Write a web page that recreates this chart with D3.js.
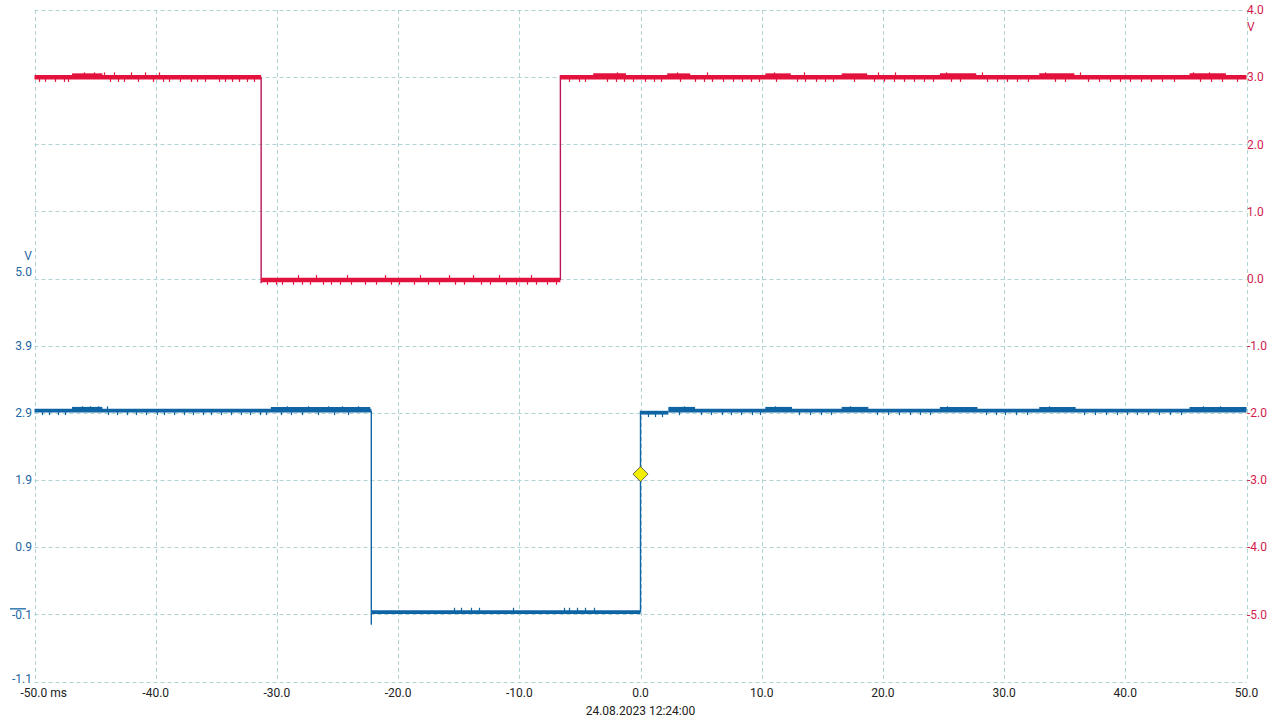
<!DOCTYPE html>
<html><head><meta charset="utf-8">
<script src="https://d3js.org/d3.v7.min.js"></script>
<style>body{margin:0;background:#fff}svg{display:block;font-family:Roboto,"DejaVu Sans",sans-serif}</style>
</head><body><svg id="c" width="1280" height="720"></svg>
<script>
// ---------- data ----------
const timeTicks = [-50,-40,-30,-20,-10,0,10,20,30,40,50];
const timeTickLabels = ["-50.0 ms","-40.0","-30.0","-20.0","-10.0","0.0","10.0","20.0","30.0","40.0","50.0"];
const rightTicks = [4,3,2,1,0,-1,-2,-3,-4,-5,-6];
const rightTickLabels = ["4.0","3.0","2.0","1.0","0.0","-1.0","-2.0","-3.0","-4.0","-5.0",""];
const leftTickLabels = ["-1.1","-0.1","0.9","1.9","2.9","3.9","5.0"];
const timestamp = "24.08.2023 12:24:00";

// channel A (red, right axis): horizontal levels and edges
const redSegments = [[-50,-31.3,3.0],[-31.3,-6.61,-0.02],[-6.61,50,3.0]];
const redEdges = [[-31.3,3.0,-0.07],[-6.61,-0.02,3.03]];
const redRaised = [[-46.9,-44.4],[-3.9,-1.2],[2.2,4.1],[10.3,12.4],[16.6,18.7],[24.7,27.7],[32.9,35.8],[45.3,48.3]];
const redDownTicks = [-49.6,-49.1,-48.3,-47.6,-47.2,-43.8,-43.1,-42.6,-41.5,-40.2,-39.4,-38.9,-38.0,-37.1,-36.6,-35.9,-34.8,-34.3,-33.7,-33.1,-32.5,-31.9,
  -30.8,-30.1,-29.6,-28.7,-27.9,-27.3,-26.2,-25.5,-24.8,-23.9,-22.7,-21.8,-20.6,-19.9,-18.7,-17.5,-16.6,-15.3,-14.6,-13.2,-12.4,-11.1,-10.3,-9.4,-8.6,-7.7,-7.0,
  -5.9,-5.1,-4.6,-2.8,-2.0,-1.4,-0.6,0.4,1.1,1.7,3.3,4.5,5.2,5.9,6.8,7.6,8.4,9.1,9.8,11.2,12.9,13.6,14.5,15.2,15.9,17.6,19.3,20.1,20.9,21.7,22.6,23.4,24.1,25.6,26.4,28.6,29.4,30.2,31.1,32.0,34.2,35.0,36.9,37.8,38.7,39.6,40.4,41.3,42.1,43.0,44.0,46.2,47.1,48.0,49.2];
const redUpTicks = [-45.9,-45.1,-44.3,-43.4,-42.0,-40.9,-39.7,-28.3,-26.8,-24.2,-21.1,-18.2,-15.8,-13.8,-11.7,-9.0,-1.9,3.0,5.5,11.0,13.5,19.6,21.0,25.2,28.2,33.4,36.3,45.6,46.9];

// channel B (blue, left axis)
const blueSegments = [[-50,-22.21,3.0],[-22.21,0,-0.05],[0,2.3,2.97],[2.3,50,3.0]];
const blueEdges = [[-22.21,3.0,-0.24],[0,-0.05,3.0]];
const blueRaised = [[-46.9,-44.4],[-30.5,-22.3],[2.3,4.5],[10.3,12.5],[16.6,18.8],[24.7,27.8],[32.9,35.9],[45.3,50]];
const blueDownTicks = [-49.4,-48.8,-48.1,-47.5,-43.9,-43.2,-42.4,-41.6,-40.8,-39.9,-39.3,-38.5,-37.7,-36.9,-36.1,-35.4,-34.6,-33.8,-33.0,-32.2,-31.4,-30.9,-29.7,-28.8,-27.9,-26.6,-25.3,-24.1,
  0.6,1.2,1.8,3.2,5.0,5.8,6.7,7.5,8.3,9.2,9.9,13.1,14.0,14.9,15.7,19.5,20.4,21.3,22.2,23.1,23.9,28.5,29.3,30.1,31.0,31.9,36.6,37.5,38.4,39.3,40.1,41.0,41.9,42.8,43.7,44.6];
const blueUpTicks = [-46.1,-45.4,-44.8,-44.0,-29.2,-27.4,-25.8,-24.6,-23.3,-15.4,-14.8,-14.0,-13.3,-10.5,-6.3,-5.9,-5.2,-4.6,-3.8,3.6,11.1,17.3,25.3,33.7,46.4,47.8];

const triggerTime = 0, triggerLevel = 2.04;

// ---------- drawing ----------
const svg = d3.select("#c");
const x = d3.scaleLinear().domain([-50,50]).range([34.5,1246.5]);
const yR = d3.scaleLinear().domain([-6,4]).range([681.5,10]);
const yL = d3.scaleLinear().domain([-1.1,5.0]).range([681.5,yR(0)]);
const leftTickVals = leftTickLabels.map((d,i)=>-1.1 + i*(6.1/6));

const RED="#e3123c", RED_EDGE="#b8145a", RED_TXT="#d21a4c";
const BLUE="#0f64a4", BLUE_TXT="#1d67a3";
const GRID="#b0d3d4";
const r5 = v => Math.round(v)+0.5;

// grid
const g = svg.append("g");
g.selectAll("line.v").data(timeTicks).join("line")
  .attr("x1",d=>r5(x(d))).attr("x2",d=>r5(x(d))).attr("y1",10).attr("y2",681.5)
  .attr("stroke",GRID).attr("stroke-dasharray","4,3");
g.selectAll("line.h").data(rightTicks).join("line")
  .attr("y1",d=>r5(yR(d))).attr("y2",d=>r5(yR(d))).attr("x1",34.5).attr("x2",1246.5)
  .attr("stroke",GRID).attr("stroke-dasharray","4,3");

// bottom labels
svg.selectAll("text.xt").data(timeTicks).join("text")
  .attr("x",(d,i)=> i===0 ? x(d)-14 : x(d))
  .attr("y",697).attr("text-anchor",(d,i)=> i===0 ? "start":"middle")
  .attr("font-size",12).attr("fill","#222").text((d,i)=>timeTickLabels[i]);
svg.append("text").attr("x",x(0)).attr("y",715).attr("text-anchor","middle")
  .attr("font-size",12).attr("fill","#222").text(timestamp);

// right axis labels
svg.selectAll("text.rt").data(rightTicks).join("text")
  .attr("x",1247).attr("y",d=>yR(d)).attr("dy","0.35em")
  .attr("font-size",12).attr("fill",RED_TXT).text((d,i)=>rightTickLabels[i]);
svg.append("text").attr("x",1247).attr("y",yR(4)+17).attr("dy","0.35em")
  .attr("font-size",12).attr("fill",RED_TXT).text("V");

// left axis labels
const lastL = leftTickVals.length-1;
svg.selectAll("text.lt").data(leftTickVals).join("text")
  .attr("x",32).attr("y",(d,i)=>yL(d) - (i===lastL ? 7 : (i===0 ? 3 : 0))).attr("dy","0.35em")
  .attr("text-anchor","end").attr("font-size",12).attr("fill",BLUE_TXT).text((d,i)=>leftTickLabels[i]);
svg.append("text").attr("x",32).attr("y",yL(5.0)-23).attr("dy","0.35em")
  .attr("text-anchor","end").attr("font-size",12).attr("fill",BLUE_TXT).text("V");
// ground marker for channel B
svg.append("line").attr("x1",10).attr("x2",26).attr("y1",yL(0)).attr("y2",yL(0))
  .attr("stroke",BLUE).attr("stroke-width",1.3);

function drawTrace(y, segs, edges, raised, down, up, col, edgeCol, bandW, tickLen){
  const tr = svg.append("g");
  const levelAt = t => { for (const s of segs) if (t>=s[0] && t<=s[1]) return s[2]; return segs[segs.length-1][2]; };
  tr.selectAll("line.e").data(edges).join("line")
    .attr("x1",d=>x(d[0])).attr("x2",d=>x(d[0])).attr("y1",d=>y(d[1])).attr("y2",d=>y(d[2]))
    .attr("stroke",edgeCol).attr("stroke-width",1.4);
  tr.selectAll("line.s").data(segs).join("line")
    .attr("x1",d=>x(d[0])).attr("x2",d=>x(d[1])).attr("y1",d=>y(d[2])).attr("y2",d=>y(d[2]))
    .attr("stroke",col).attr("stroke-width",bandW);
  tr.selectAll("line.r").data(raised).join("line")
    .attr("x1",d=>x(d[0])).attr("x2",d=>x(d[1]))
    .attr("y1",d=>y(levelAt((d[0]+d[1])/2))-2.4).attr("y2",d=>y(levelAt((d[0]+d[1])/2))-2.4)
    .attr("stroke",col).attr("stroke-width",2.8);
  tr.selectAll("line.d").data(down).join("line")
    .attr("x1",d=>r5(x(d))).attr("x2",d=>r5(x(d)))
    .attr("y1",d=>y(levelAt(d))).attr("y2",d=>y(levelAt(d))+bandW/2+tickLen)
    .attr("stroke",col).attr("stroke-width",1.2);
  tr.selectAll("line.u").data(up).join("line")
    .attr("x1",d=>r5(x(d))).attr("x2",d=>r5(x(d)))
    .attr("y1",d=>y(levelAt(d))).attr("y2",d=>y(levelAt(d))-bandW/2-tickLen)
    .attr("stroke",col).attr("stroke-width",1.2);
}
drawTrace(yR, redSegments, redEdges, redRaised, redDownTicks, redUpTicks, RED, RED_EDGE, 4.5, 2.5);
drawTrace(yL, blueSegments, blueEdges, blueRaised, blueDownTicks, blueUpTicks, BLUE, BLUE, 3.8, 2.5);

// trigger marker
const tx = x(triggerTime), ty = yL(triggerLevel), s = 7.5;
svg.append("path").attr("d",`M${tx},${ty-s}L${tx+s},${ty}L${tx},${ty+s}L${tx-s},${ty}Z`)
  .attr("fill","#f2ee00").attr("stroke","#444").attr("stroke-width",0.8);
</script></body></html>
